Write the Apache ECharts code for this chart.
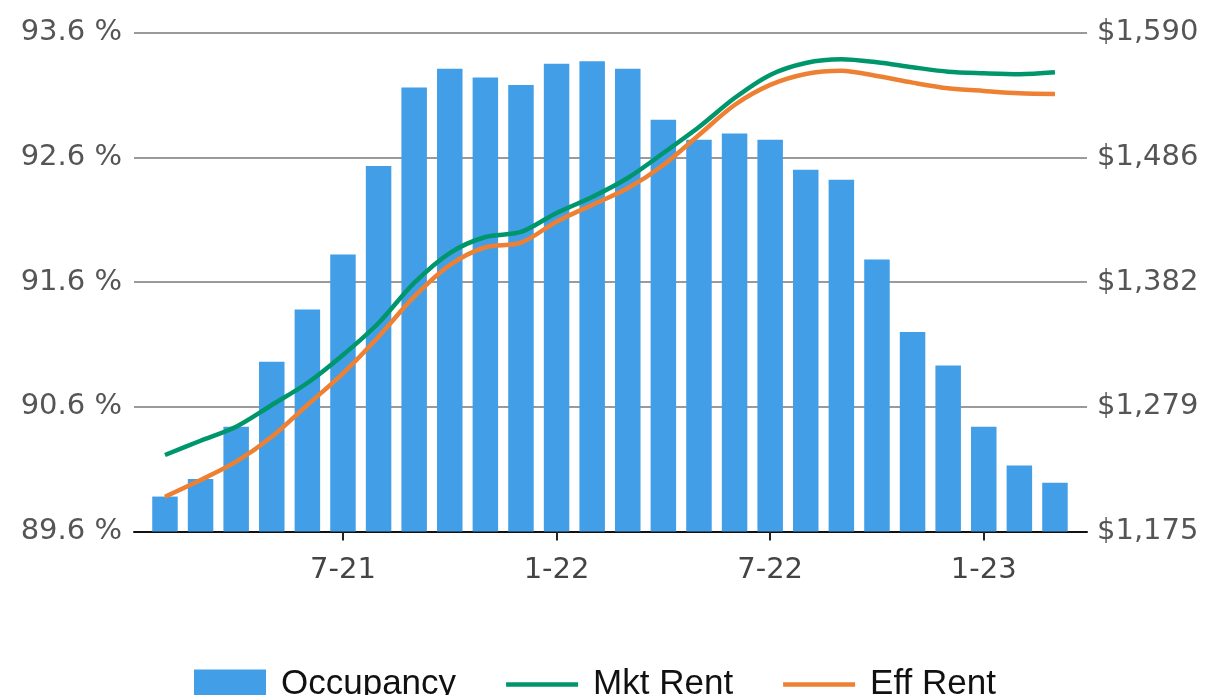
<!DOCTYPE html>
<html>
<head>
<meta charset="utf-8">
<script src="https://cdn.jsdelivr.net/npm/echarts@6/dist/echarts.min.js"></script>
<style>
  html, body { margin: 0; padding: 0; background: #fff; }
  #chart { width: 1209px; height: 695px; }
</style>
</head>
<body>
<div id="chart"></div>
<script>
  // months 2-21 .. 3-23
  const months = ['2-21', '3-21', '4-21', '5-21', '6-21', '7-21', '8-21', '9-21', '10-21', '11-21', '12-21',
    '1-22', '2-22', '3-22', '4-22', '5-22', '6-22', '7-22', '8-22', '9-22', '10-22', '11-22', '12-22',
    '1-23', '2-23', '3-23']
  const occupancy = [89.88, 90.02, 90.44, 90.96, 91.38, 91.82, 92.53, 93.16, 93.31, 93.24, 93.18,
    93.35, 93.37, 93.31, 92.90, 92.74, 92.79, 92.74, 92.50, 92.42, 91.78, 91.20, 90.93,
    90.44, 90.13, 89.99]
  const mktRent = [1238.6, 1250.5, 1262.2, 1280.2, 1298.5, 1321.8, 1348.4, 1381.7, 1406.6, 1419.9, 1424.1,
    1439.9, 1453.2, 1469.0, 1489.8, 1511.4, 1535.5, 1554.7, 1564.6, 1567.7, 1565.2, 1561.1, 1557.4,
    1556.1, 1555.3, 1556.9]
  const effRent = [1203.9, 1217.8, 1233.1, 1253.8, 1280.2, 1306.6, 1337.0, 1370.3, 1396.6, 1411.4, 1415.2,
    1432.7, 1446.6, 1460.4, 1479.8, 1504.8, 1529.7, 1546.4, 1555.5, 1558.2, 1553.8, 1548.3, 1543.6,
    1541.4, 1539.5, 1538.9]
  const labelMonths = ['7-21', '1-22', '7-22', '1-23']
  const occTicks = [89.6, 90.6, 91.6, 92.6, 93.6]
  const rentTicks = [1175, 1278.75, 1382.5, 1486.25, 1590]
  const rentTickLabels = ['$1,175', '$1,279', '$1,382', '$1,486', '$1,590']

  const labelIdx = labelMonths.map(m => months.indexOf(m))
  const pairs = arr => arr.map((v, i) => [i, v])
  const lineIcon = 'path://M0,0 L72,0 L72,4.5 L0,4.5 Z'

  const chart = echarts.init(document.getElementById('chart'))

  function lineSeries(name, data, color) {
    return {
      name,
      type: 'line',
      yAxisIndex: 1,
      smooth: 0.3,
      symbol: 'none',
      data: pairs(data),
      itemStyle: { color },
      lineStyle: { color, width: 4.5 },
      z: 3
    }
  }

  const tickFont = {
    fontFamily: 'DejaVu Sans',
    fontSize: 29,
    color: '#555'
  }

  chart.setOption({
    animation: false,
    grid: {
      left: 134,
      right: 122,
      top: 32.5,
      bottom: 163.5
    },
    legend: {
      left: 189,
      top: 662,
      itemWidth: 72,
      itemHeight: 30,
      itemGap: 50,
      textStyle: {
        fontFamily: 'Liberation Sans',
        fontSize: 35,
        color: '#111',
        padding: [0, 0, 0, 10]
      },
      data: [
        { name: 'Occupancy', icon: 'rect' },
        { name: 'Mkt Rent', icon: lineIcon },
        { name: 'Eff Rent', icon: lineIcon }
      ]
    },
    xAxis: {
      type: 'value',
      min: -0.87,
      max: 25.9,
      splitLine: { show: false },
      axisLine: {
        show: true,
        lineStyle: { color: '#111', width: 2 }
      },
      axisTick: {
        show: true,
        customValues: labelIdx,
        length: 9,
        lineStyle: { color: '#222', width: 2 }
      },
      axisLabel: Object.assign({
        customValues: labelIdx,
        formatter: v => months[Math.round(v)],
        margin: 24
      }, tickFont, { color: '#444' })
    },
    yAxis: [
      {
        type: 'value',
        min: 89.6,
        max: 93.6,
        interval: 1,
        axisLine: { show: false },
        axisTick: { show: false },
        splitLine: {
          lineStyle: { color: '#9a9a9a', width: 2 }
        },
        axisLabel: Object.assign({
          customValues: occTicks,
          formatter: v => v.toFixed(1) + ' %',
          margin: 12
        }, tickFont)
      },
      {
        type: 'value',
        min: 1175,
        max: 1590,
        axisLine: { show: false },
        axisTick: { show: false },
        splitLine: { show: false },
        axisLabel: Object.assign({
          customValues: rentTicks,
          formatter: v => rentTickLabels[rentTicks.indexOf(v)],
          margin: 10
        }, tickFont)
      }
    ],
    series: [
      {
        name: 'Occupancy',
        type: 'bar',
        barWidth: 25.5,
        data: pairs(occupancy),
        itemStyle: { color: '#439EE8' }
      },
      lineSeries('Mkt Rent', mktRent, '#00966C'),
      lineSeries('Eff Rent', effRent, '#EE8033')
    ]
  })
</script>
</body>
</html>
